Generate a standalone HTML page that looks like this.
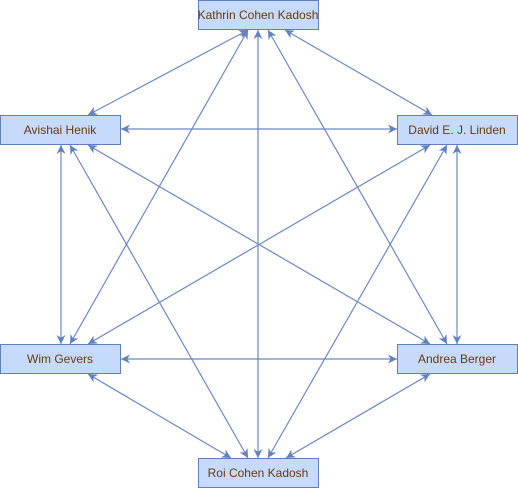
<!DOCTYPE html>
<html><head><meta charset="utf-8"><style>
html,body{margin:0;padding:0;background:#fff;width:518px;height:489px;overflow:hidden}
svg{display:block}
text{font-family:"Liberation Sans",sans-serif;font-size:12px;fill:#6b3a0a}
</style></head><body>
<svg width="518" height="489" viewBox="0 0 518 489">
<defs>
<marker id="a" viewBox="0 0 10 10" refX="10" refY="5" markerWidth="9" markerHeight="9" orient="auto-start-reverse" markerUnits="userSpaceOnUse">
<path d="M0,0 L10,5 L0,10 L3,5 z" fill="#6080c0"/></marker>
</defs>
<g stroke="#6b88c4" stroke-width="1.2" marker-start="url(#a)" marker-end="url(#a)" fill="none">
<line x1="248" y1="30" x2="88" y2="115"/>
<line x1="285" y1="30" x2="432" y2="115"/>
<line x1="248" y1="30" x2="70" y2="344"/>
<line x1="268" y1="30" x2="447" y2="344"/>
<line x1="258" y1="30" x2="258" y2="458"/>
<line x1="121" y1="129" x2="397" y2="129"/>
<line x1="61" y1="145" x2="61" y2="344"/>
<line x1="88" y1="145" x2="430" y2="344"/>
<line x1="70" y1="145" x2="248" y2="458"/>
<line x1="430" y1="145" x2="88" y2="344"/>
<line x1="457" y1="145" x2="457" y2="344"/>
<line x1="447" y1="145" x2="268" y2="458"/>
<line x1="121" y1="359" x2="397" y2="359"/>
<line x1="88" y1="374" x2="231" y2="458"/>
<line x1="430" y1="374" x2="286" y2="458"/>
</g>
<g fill="#c6dafc" stroke="#5f7fbf" stroke-width="1">
<rect x="198.5" y="0.5" width="120" height="29"/>
<rect x="0.5" y="115.5" width="120" height="29"/>
<rect x="397.5" y="115.5" width="120" height="29"/>
<rect x="0.5" y="344.5" width="120" height="29"/>
<rect x="397.5" y="344.5" width="120" height="29"/>
<rect x="198.5" y="458.5" width="120" height="29"/>
</g>
<g text-anchor="middle">
<text x="258" y="19">Kathrin Cohen Kadosh</text>
<text x="60" y="134">Avishai Henik</text>
<text x="457" y="134">David E. J. Linden</text>
<text x="60" y="363">Wim Gevers</text>
<text x="457" y="363">Andrea Berger</text>
<text x="258" y="477">Roi Cohen Kadosh</text>
</g>
</svg>
</body></html>
